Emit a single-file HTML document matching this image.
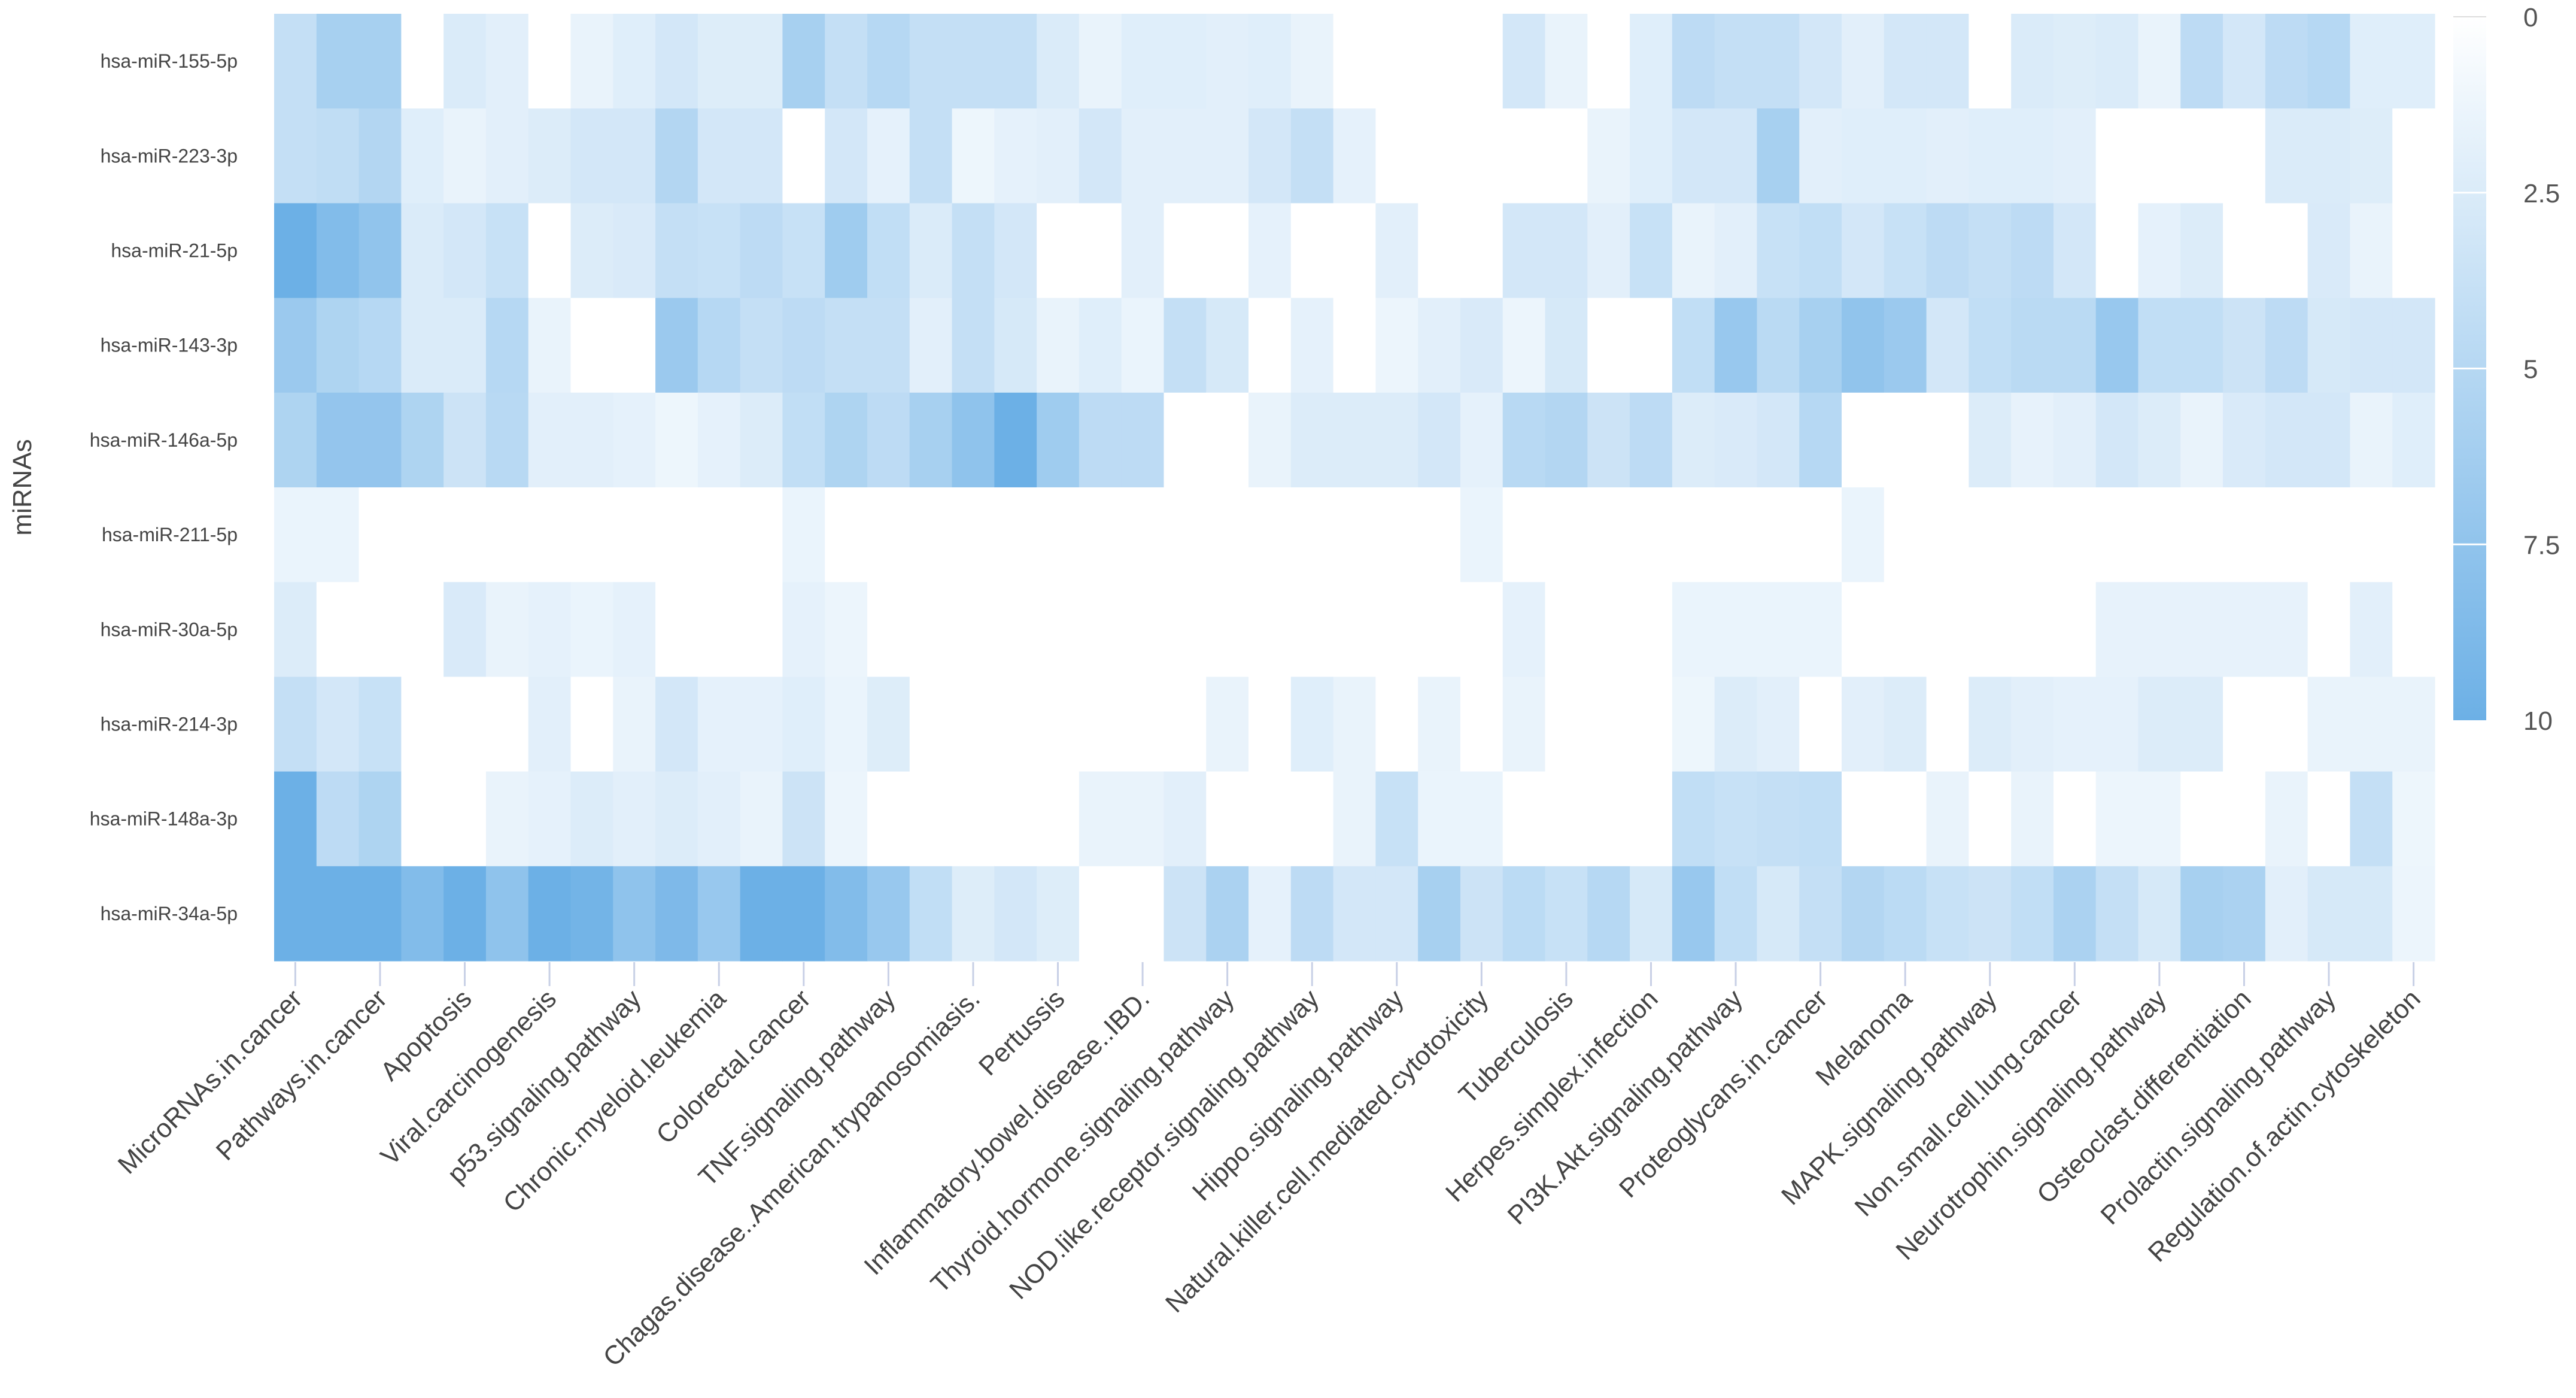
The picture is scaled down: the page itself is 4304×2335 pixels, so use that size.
<!DOCTYPE html>
<html><head><meta charset="utf-8">
<style>
html,body{margin:0;padding:0;background:#fff;}
svg{display:block;font-family:"Liberation Sans",Arial,sans-serif;}
</style></head>
<body>
<svg id="chart" width="4304" height="2335" viewBox="0 0 4304 2335" xmlns="http://www.w3.org/2000/svg">
<defs>
<linearGradient id="cbGrad" x1="0" y1="0" x2="0" y2="1">
<stop offset="0" stop-color="#ffffff"/>
<stop offset="1" stop-color="#6cb0e6"/>
</linearGradient>
</defs>
<g id="cells"></g>
<g id="xaxis"></g>
<g id="yaxis"></g>
<text transform="translate(52,814) rotate(-90)" text-anchor="middle" font-size="44" fill="#444">miRNAs</text>
<g id="colorbar"></g>
</svg>
<script>
const rowNames = ["hsa-miR-155-5p","hsa-miR-223-3p","hsa-miR-21-5p","hsa-miR-143-3p","hsa-miR-146a-5p","hsa-miR-211-5p","hsa-miR-30a-5p","hsa-miR-214-3p","hsa-miR-148a-3p","hsa-miR-34a-5p"];
const colLabels = ["MicroRNAs.in.cancer","Pathways.in.cancer","Apoptosis","Viral.carcinogenesis","p53.signaling.pathway","Chronic.myeloid.leukemia","Colorectal.cancer","TNF.signaling.pathway","Chagas.disease..American.trypanosomiasis.","Pertussis","Inflammatory.bowel.disease..IBD.","Thyroid.hormone.signaling.pathway","NOD.like.receptor.signaling.pathway","Hippo.signaling.pathway","Natural.killer.cell.mediated.cytotoxicity","Tuberculosis","Herpes.simplex.infection","PI3K.Akt.signaling.pathway","Proteoglycans.in.cancer","Melanoma","MAPK.signaling.pathway","Non.small.cell.lung.cancer","Neurotrophin.signaling.pathway","Osteoclast.differentiation","Prolactin.signaling.pathway","Regulation.of.actin.cytoskeleton"];
const nCols = 51;
const r0 = [4,6,6,0,2.5,2,0,1.5,2.2,3,2.3,2.3,6,4, 5,4,4,4,2.5,1.5,2.2,2.2,2,2.2,1.5,0,0, 0,0,3,1.5,0,2.2,4.5,4,4,3,2,3,3,0, 2.5,2.3,2.5,1.5,4.5,3,4.5,5,2.2,2.2];
const r1 = [4,4.3,5.2,2.2,1.5,2,2.4,3,3,5.2,3,3,0,3, 1.8,4,1.2,1.8,2,3,2,2,2,3,4,1.8,0, 0,0,0,0,1.5,2.2,3,3,6,2,2.2,2.2,2,2.2, 2.2,2,0,0,0,0,2.5,2.5,2.3,0];
const r2 = [10,8.5,7.5,2.5,3,3.8,0,2.4,2.6,4,3.8,4.5,3.8,6.5, 4.2,2.5,4,3,0,0,2,0,0,1.8,0,0,2, 0,0,3,3,2,3.8,1.5,2,3.8,4.2,3,3.8,4.5,4, 4.5,3,0,1.8,2.4,0,0,2.6,1.5,0];
const r3 = [6.8,5.5,5,2.5,2.5,5,1.5,0,0,6.8,5,4,4.5,4, 4,2,4,2.8,1.5,2.2,1.4,4,2.8,0,1.8,0,1.3, 2,2.6,1.3,2.8,0,0,4.2,7,4.7,6,7.5,6.8,3,4.2, 4.7,4.7,7,4.2,4.2,3.5,4.5,2.8,3,3];
const r4 = [5.5,7.3,7.3,5.5,3.5,4.8,2,2,1.8,1.2,1.8,2.4,4.2,5.5, 4.5,6,7.6,10,6.5,4.5,4.5,0,0,1.5,2.4,2.4,2.4, 3,1.8,4.8,5.2,3.5,4.5,2.4,2.6,3,5,0,0,0,2.4, 1.6,2,3,2.4,1.5,2.6,3,3,1.5,2.2];
const r5 = [1.4,1.4,0,0,0,0,0,0,0,0,0,0,1.4,0, 0,0,0,0,0,0,0,0,0,0,0,0,0, 0,1.4,0,0,0,0,0,0,0,0,1.4,0,0,0, 0,0,0,0,0,0,0,0,0,0];
const r6 = [2.4,0,0,0,2.6,1.5,1.8,1.4,1.8,0,0,0,1.8,1.3, 0,0,0,0,0,0,0,0,0,0,0,0,0, 0,0,1.8,0,0,0,1.4,1.4,1.4,1.4,0,0,0,0, 0,0,1.6,1.6,1.6,1.6,1.6,0,2,0];
const r7 = [4,3,3.8,0,0,0,2,0,1.5,3,1.8,1.8,2.2,1.4, 2.3,0,0,0,0,0,0,0,1.5,0,2.2,1.5,0, 1.5,0,1.5,0,0,0,1.2,2.4,2,0,2,2.4,0,2.4, 2,1.8,1.8,2.4,2.4,0,0,1.5,1.5,1.5];
const r8 = [10,4.5,5.5,0,0,1.5,1.8,2.4,2,2.4,2,1.5,3.5,1.3, 0,0,0,0,0,1.5,1.5,2,0,0,0,1.5,3.8, 1.4,1.4,0,0,0,0,4.2,3.8,4,4.2,0,0,1.5,0, 1.5,0,1.3,1.3,0,0,1.5,0,4,1.2];
const r9 = [10,10,10,8.5,10,7.6,10,9.5,7.6,8.8,7,10,10,8.5, 7,4.2,2.3,3,2.3,0,0,3.5,5.7,1.8,4.5,3,3, 6,3.5,4.6,3.8,5,2.8,7,4.2,2.8,4,5.2,4.6,3.8,3.5, 4.2,5.7,4,2.8,6,5.7,2,2.8,2.8,1.3];
const values = [r0,r1,r2,r3,r4,r5,r6,r7,r8,r9];
const cbTicks = [0,2.5,5,7.5,10];

const NS = "http://www.w3.org/2000/svg";
const X0 = 458, X1 = 4068, Y0 = 23, Y1 = 1605;
const cw = (X1 - X0) / nCols, rh = (Y1 - Y0) / rowNames.length;
function xScale(c){ return X0 + c * cw; }
function yScale(r){ return Y0 + r * rh; }
function color(v){
  const t = Math.max(0, Math.min(1, v / 10));
  const r = Math.round(255 + (108 - 255) * t), g = Math.round(255 + (176 - 255) * t), b = Math.round(255 + (230 - 255) * t);
  return "rgb(" + r + "," + g + "," + b + ")";
}
function mk(tag, attrs, parent){
  const e = document.createElementNS(NS, tag);
  for (const k in attrs) e.setAttribute(k, attrs[k]);
  parent.appendChild(e);
  return e;
}
const cells = document.getElementById("cells");
values.forEach((row, ri) => {
  row.forEach((v, ci) => {
    const rc = mk("rect", {x: xScale(ci).toFixed(2), y: yScale(ri).toFixed(2), width: (cw + 0.6).toFixed(2), height: (rh + 0.6).toFixed(2), fill: color(v)}, cells);
    
    
  });
});
const yaxis = document.getElementById("yaxis");
rowNames.forEach((n, ri) => {
  const t = mk("text", {x: 397, y: (yScale(ri) + rh / 2 + 11).toFixed(1), "text-anchor": "end", "font-size": 32, fill: "#444"}, yaxis);
  t.textContent = n;
  
  
});
const xaxis = document.getElementById("xaxis");
colLabels.forEach((n, i) => {
  const c = i * 2;
  const cx = xScale(c) + cw / 2;
  const tk = mk("line", {x1: cx, y1: Y1 + 2, x2: cx, y2: Y1 + 42, stroke: "#c8d0e6", "stroke-width": 3}, xaxis);
  
  
  const t = mk("text", {transform: "translate(" + (cx + 14).toFixed(1) + "," + (Y1 + 66) + ") rotate(-45)", "text-anchor": "end", "font-size": 44, fill: "#444"}, xaxis);
  t.textContent = n;
  
  
});
const cb = document.getElementById("colorbar");
const CB0 = 28, CB1 = 1203, CBX = 4099, CBW = 55;
function cbScale(v){ return CB0 + (CB1 - CB0) * v / 10; }
const bar = mk("rect", {x: CBX, y: CB0, width: CBW, height: CB1 - CB0, fill: "url(#cbGrad)"}, cb);


cbTicks.forEach(v => {
  const y = cbScale(v);
  if (v > 0 && v < 10) {
    const l = mk("line", {x1: CBX, y1: y, x2: CBX + CBW, y2: y, stroke: "#ffffff", "stroke-width": 3}, cb);
    
    
  }
  const t = mk("text", {x: 4216, y: (y + 16).toFixed(1), "font-size": 44, fill: "#555"}, cb);
  t.textContent = String(v);
  
  
});
const top0 = mk("line", {x1: CBX, y1: CB0, x2: CBX + CBW, y2: CB0, stroke: "#ddd", "stroke-width": 2}, cb);


</script>
</body></html>
